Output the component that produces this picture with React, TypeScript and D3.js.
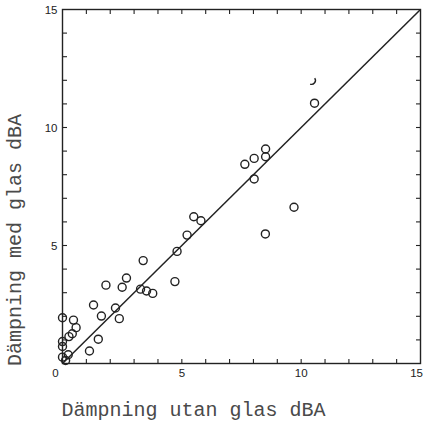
import React from "react";
import * as d3 from "d3";

const xValues = [5.5, 5.8, 5.22, 4.8, 4.71, 3.38, 3.27, 3.52, 3.78, 2.68, 2.5, 1.82, 2.22, 2.38, 1.3, 1.63, 1.5, 1.13, 0, 0.46, 0.57, 0.41, 0.27, 0, 0, 0, 0.24, 0.13, 10.56, 7.64, 8.03, 8.51, 8.51, 8.03, 9.7, 8.5];
const yValues = [6.22, 6.05, 5.44, 4.75, 3.47, 4.36, 3.15, 3.07, 2.97, 3.62, 3.23, 3.32, 2.35, 1.9, 2.48, 2.01, 1.03, 0.53, 1.94, 1.84, 1.52, 1.26, 1.14, 0.93, 0.72, 0.27, 0.37, 0.13, 11.03, 8.44, 8.69, 9.09, 8.76, 7.82, 6.62, 5.49];
// partially printed point (only an arc visible)
const partialPoint = [10.43, 12.0];
const lineX = [0, 15];
const majorTicks = [0, 5, 10, 15];
const minorTicks = d3.range(0, 16);
const xTitle = "Dämpning utan glas dBA";
const yTitle = "Dämpning med glas dBA";

const W = 424, H = 426;
const x = d3.scaleLinear().domain([0, 15]).range([62.5, 420.5]);
const y = d3.scaleLinear().domain([0, 15]).range([363.5, 9.5]);

export default function App() {
  const ink = "#222";
  const r = 4;
  const tl = 4.5;
  const [x0, x1] = x.range();
  const [y0, y1] = y.range();
  const p = d3.path();
  const cx = x(partialPoint[0]), cy = y(partialPoint[1]);
  p.arc(cx, cy, r, -0.6, 1.9);
  const diag = d3.line<number>().x((d) => x(d)).y((d) => y(d))(lineX) || "";
  return (
    <svg width={W} height={H} style={{ position: "absolute", left: 0, top: 0, background: "#fff" }}>
      <rect x={0} y={0} width={W} height={H} fill="#fff" />
      <rect x={x0} y={y1} width={x1 - x0} height={y0 - y1} fill="none" stroke={ink} strokeWidth={1.4} />
      {minorTicks.slice(1, 15).map((t) => (
        <g key={"t" + t} stroke={ink} strokeWidth={1.1}>
          <line x1={x(t)} x2={x(t)} y1={y0} y2={y0 - tl} />
          <line x1={x(t)} x2={x(t)} y1={y1} y2={y1 + tl} />
          <line x1={x0} x2={x0 + tl} y1={y(t)} y2={y(t)} />
          <line x1={x1} x2={x1 - tl} y1={y(t)} y2={y(t)} />
        </g>
      ))}
      <g fontFamily="'Liberation Sans', Arial, sans-serif" fontSize={11.5} fill={ink}>
        {majorTicks.map((t) => (
          <text key={"xl" + t} x={t === 0 ? x(t) - 7 : t === 15 ? W - 1 : x(t)} y={y0 + 13} textAnchor={t === 15 ? "end" : "middle"}>{t}</text>
        ))}
        {majorTicks.slice(1).map((t) => (
          <text key={"yl" + t} x={x0 - 5} y={y(t) + 4} textAnchor="end">{t}</text>
        ))}
      </g>
      <path d={diag} fill="none" stroke={ink} strokeWidth={1.5} />
      {xValues.map((v, i) => (
        <circle key={i} cx={x(v)} cy={y(yValues[i])} r={r} fill="none" stroke={ink} strokeWidth={1.4} />
      ))}
      <path d={p.toString()} fill="none" stroke={ink} strokeWidth={1.4} />
      <text x={(57 + 330) / 2} y={416} textAnchor="middle" fontFamily="'Liberation Mono', 'DejaVu Sans Mono', monospace" fontSize={20} fill="#4a4a4a">{xTitle}</text>
      <text transform={`translate(21, ${(110 + 370) / 2}) rotate(-90)`} textAnchor="middle" fontFamily="'Liberation Mono', 'DejaVu Sans Mono', monospace" fontSize={20} fill="#4a4a4a">{yTitle}</text>
    </svg>
  );
}
